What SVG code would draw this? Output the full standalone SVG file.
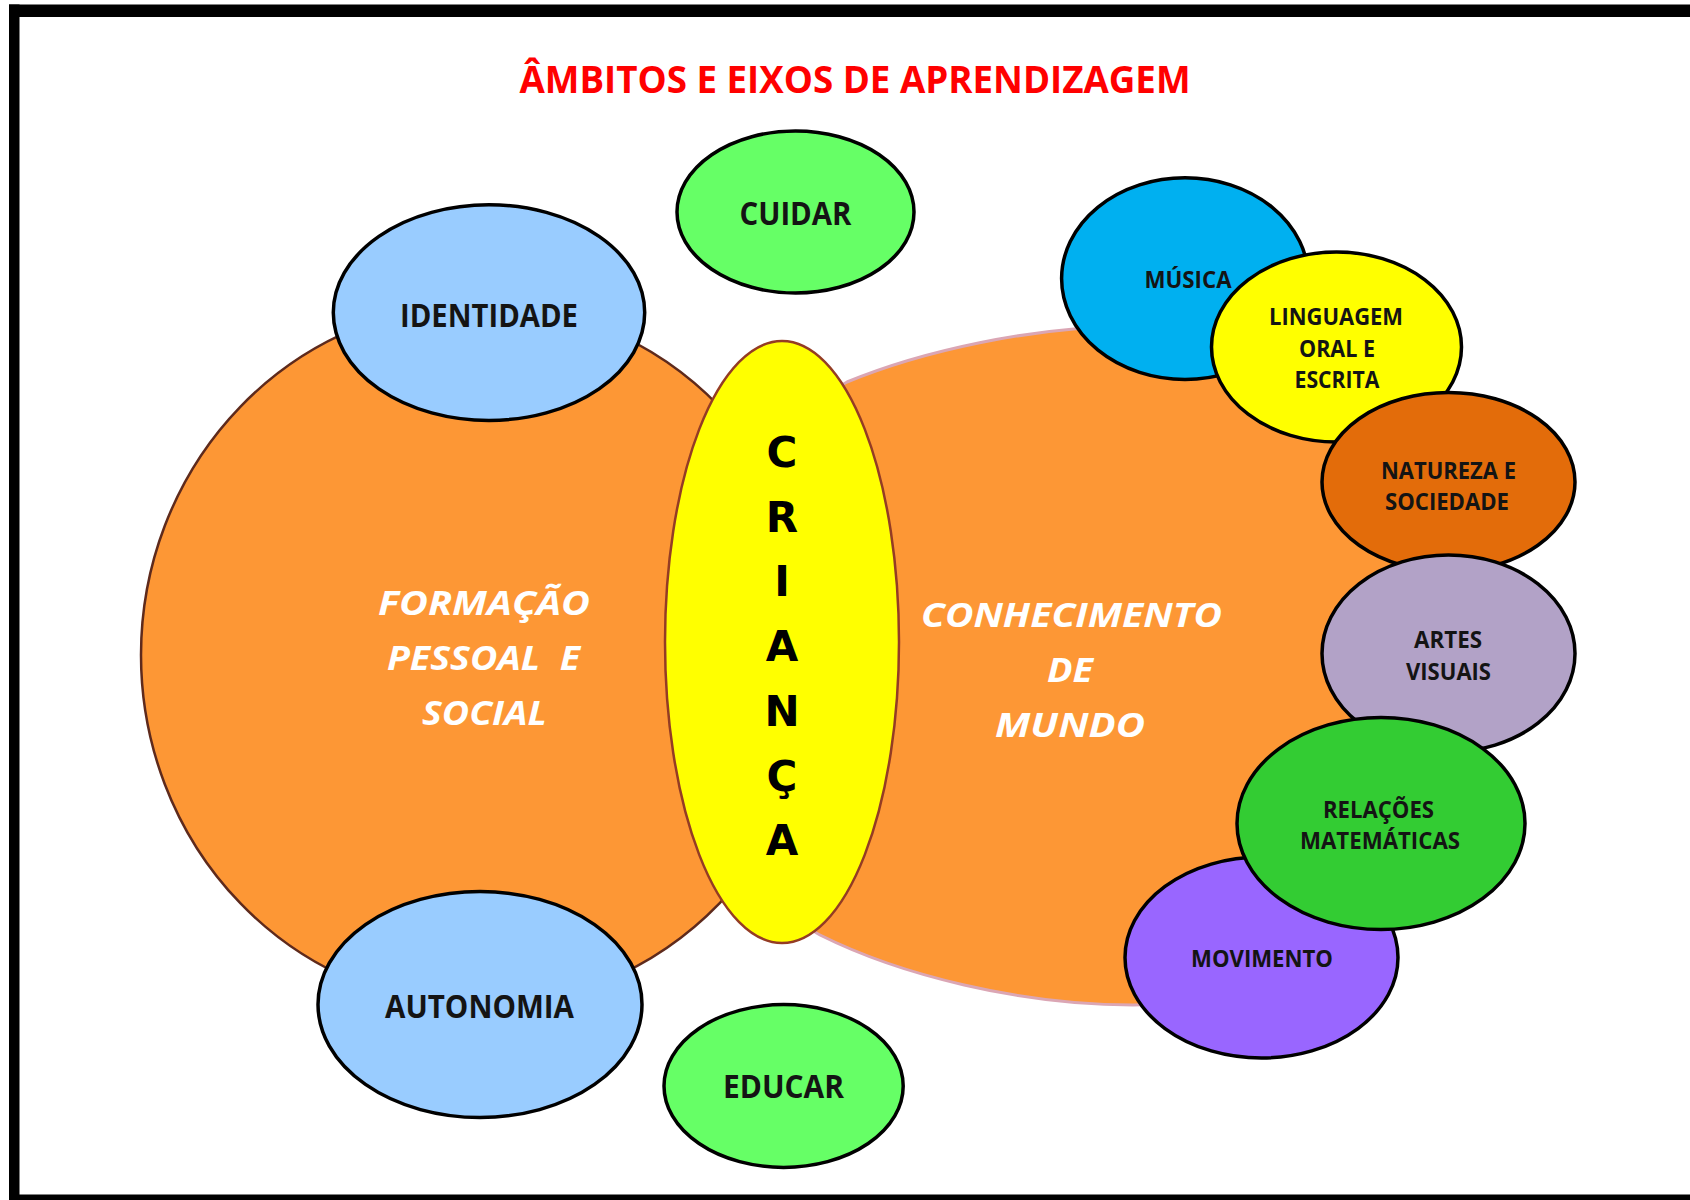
<svg xmlns="http://www.w3.org/2000/svg" width="1690" height="1200" viewBox="0 0 1690 1200">
<style>
  .lbl { font-family: "Open Sans", "Liberation Sans", sans-serif; font-weight: bold; fill: #141414; text-anchor: middle; }
  .big { font-size: 32px; }
  .sm { font-size: 23px; }
  .ital { font-family: "Open Sans", "Liberation Sans", sans-serif; font-weight: bold; font-style: italic; fill: #ffffff; font-size: 34px; text-anchor: middle; }
  .bub { stroke: #000000; stroke-width: 3.5; }
  .letter { font-family: "DejaVu Sans", Verdana, sans-serif; font-weight: bold; font-size: 42px; fill: #000000; text-anchor: middle; }
</style>
<rect x="0" y="0" width="1690" height="1200" fill="#ffffff"/>
<g id="frame" fill="#000000">
  <rect x="9" y="4.5" width="1681" height="12.5"/>
  <rect x="9" y="4.5" width="10.5" height="1195.5"/>
  <rect x="9" y="1194.5" width="1681" height="5.5"/>
</g>
<g id="title">
  <text x="855" y="93" font-family="'Open Sans', 'Liberation Sans', sans-serif" font-weight="bold" font-size="37" fill="#ff0000" text-anchor="middle" textLength="671" lengthAdjust="spacingAndGlyphs">ÂMBITOS E EIXOS DE APRENDIZAGEM</text>
</g>
<g id="connectors"></g>
<g id="formacao">
  <ellipse cx="480" cy="655" rx="339" ry="351" fill="#fd9735" stroke="#5e2a1c" stroke-width="2.5"/>
  <text class="ital" x="484" y="615" textLength="212" lengthAdjust="spacingAndGlyphs">FORMAÇÃO</text>
  <text class="ital" x="483.5" y="670" textLength="193" lengthAdjust="spacingAndGlyphs" xml:space="preserve">PESSOAL  E</text>
  <text class="ital" x="484.5" y="725" textLength="125" lengthAdjust="spacingAndGlyphs">SOCIAL</text>
</g>
<g id="conhecimento">
  <path d="M 847 382 C 920 352 1030 326 1140 326 C 1300 326 1450 420 1480 560 C 1500 700 1470 820 1420 880 C 1340 960 1230 1005 1133 1005 C 1020 1005 900 975 820 935 C 780 915 730 800 720 660 C 715 520 790 410 847 382 Z" fill="#fd9735" stroke="#dba6b4" stroke-width="3"/>
  <text class="ital" x="1071.5" y="627" textLength="301" lengthAdjust="spacingAndGlyphs">CONHECIMENTO</text>
  <text class="ital" x="1070" y="682" textLength="46" lengthAdjust="spacingAndGlyphs">DE</text>
  <text class="ital" x="1070" y="737" textLength="150" lengthAdjust="spacingAndGlyphs">MUNDO</text>
</g>
<g id="identidade">
  <ellipse class="bub" cx="489" cy="312.6" rx="155.7" ry="107.8" fill="#99ccff"/>
  <text class="lbl big" x="489" y="326.5" textLength="178" lengthAdjust="spacingAndGlyphs">IDENTIDADE</text>
</g>
<g id="autonomia">
  <ellipse class="bub" cx="480" cy="1004.5" rx="162" ry="113" fill="#99ccff"/>
  <text class="lbl big" x="479.5" y="1017.5" textLength="189" lengthAdjust="spacingAndGlyphs">AUTONOMIA</text>
</g>
<g id="cuidar">
  <ellipse class="bub" cx="795.5" cy="212" rx="118.5" ry="81" fill="#66ff66"/>
  <text class="lbl big" x="795.5" y="225" textLength="112" lengthAdjust="spacingAndGlyphs">CUIDAR</text>
</g>
<g id="educar">
  <ellipse class="bub" cx="783.6" cy="1086" rx="119.6" ry="81.4" fill="#66ff66"/>
  <text class="lbl big" x="783.5" y="1098" textLength="121" lengthAdjust="spacingAndGlyphs">EDUCAR</text>
</g>
<g id="crianca">
  <ellipse cx="782" cy="642" rx="117" ry="301" fill="#ffff00" stroke="#943c24" stroke-width="2.5"/>
  <text class="letter" x="782" y="467">C</text>
  <text class="letter" x="782" y="531.7">R</text>
  <text class="letter" x="782" y="596.4">I</text>
  <text class="letter" x="782" y="661.1">A</text>
  <text class="letter" x="782" y="725.8">N</text>
  <text class="letter" x="782" y="790.5">Ç</text>
  <text class="letter" x="782" y="855.2">A</text>
</g>
<g id="musica">
  <ellipse class="bub" cx="1185" cy="278.6" rx="123.4" ry="100.8" fill="#00b0f0"/>
  <text class="lbl sm" x="1188" y="288" textLength="87" lengthAdjust="spacingAndGlyphs">MÚSICA</text>
</g>
<g id="linguagem">
  <ellipse class="bub" cx="1336.5" cy="347" rx="125" ry="95" fill="#ffff00"/>
  <text class="lbl sm" x="1336" y="325" textLength="134" lengthAdjust="spacingAndGlyphs">LINGUAGEM</text>
  <text class="lbl sm" x="1337" y="357" textLength="76" lengthAdjust="spacingAndGlyphs">ORAL E</text>
  <text class="lbl sm" x="1337" y="388" textLength="85" lengthAdjust="spacingAndGlyphs">ESCRITA</text>
</g>
<g id="natureza">
  <ellipse class="bub" cx="1448.5" cy="482" rx="126.5" ry="89.5" fill="#e36c0a"/>
  <text class="lbl sm" x="1448.5" y="479" textLength="135" lengthAdjust="spacingAndGlyphs">NATUREZA E</text>
  <text class="lbl sm" x="1447" y="510" textLength="124" lengthAdjust="spacingAndGlyphs">SOCIEDADE</text>
</g>
<g id="artes">
  <ellipse class="bub" cx="1448.5" cy="653.5" rx="126.5" ry="98.5" fill="#b2a2c7"/>
  <text class="lbl sm" x="1448" y="648" textLength="68" lengthAdjust="spacingAndGlyphs">ARTES</text>
  <text class="lbl sm" x="1448.5" y="680" textLength="85" lengthAdjust="spacingAndGlyphs">VISUAIS</text>
</g>
<g id="movimento">
  <ellipse class="bub" cx="1261.5" cy="957.5" rx="136.5" ry="100.5" fill="#9966ff"/>
  <text class="lbl sm" x="1262" y="967" textLength="142" lengthAdjust="spacingAndGlyphs">MOVIMENTO</text>
</g>
<g id="relacoes">
  <ellipse class="bub" cx="1381" cy="823.5" rx="144" ry="106" fill="#33cc33"/>
  <text class="lbl sm" x="1378.5" y="818" textLength="111" lengthAdjust="spacingAndGlyphs">RELAÇÕES</text>
  <text class="lbl sm" x="1380" y="849" textLength="160" lengthAdjust="spacingAndGlyphs">MATEMÁTICAS</text>
</g>
</svg>
